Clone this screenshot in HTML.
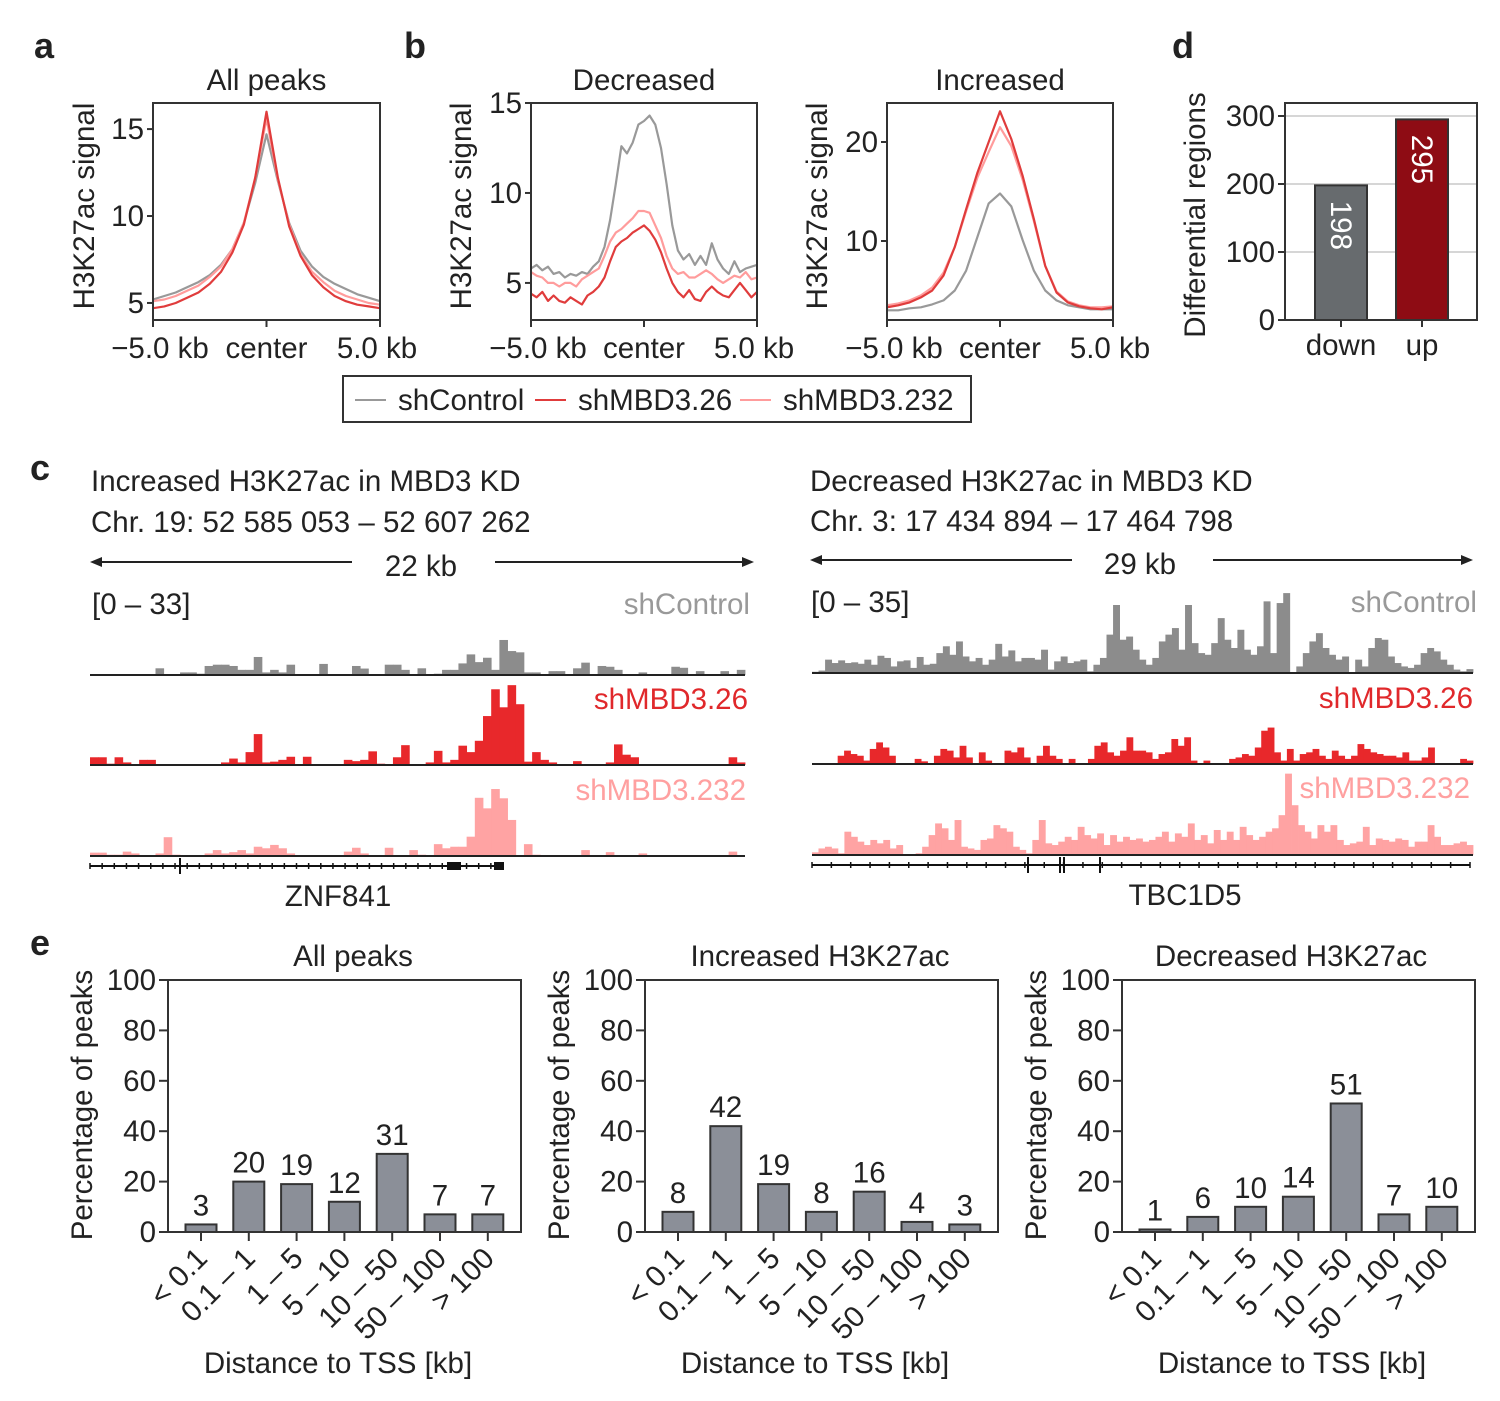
<!DOCTYPE html>
<html><head><meta charset="utf-8"><style>
html,body{margin:0;padding:0;background:#fff;}
svg{display:block;font-family:"Liberation Sans",Arial,sans-serif;}
</style></head><body>
<svg id="fig" width="1500" height="1401" viewBox="0 0 1500 1401" xmlns="http://www.w3.org/2000/svg">
<rect width="1500" height="1401" fill="#fff"/>
<g font-weight="bold" font-size="36" fill="#222">
<text x="34" y="58">a</text>
<text x="404" y="58">b</text>
<text x="1172" y="58">d</text>
<text x="30" y="480">c</text>
<text x="30" y="955">e</text>
</g>
<g font-size="29.5" fill="#222">
<text x="91" y="491">Increased H3K27ac in MBD3 KD</text>
<text x="91" y="532">Chr. 19: 52 585 053 – 52 607 262</text>
<text x="810" y="491">Decreased H3K27ac in MBD3 KD</text>
<text x="810" y="531">Chr. 3: 17 434 894 – 17 464 798</text>
<text x="421" y="576" text-anchor="middle">22 kb</text>
<text x="1140" y="574" text-anchor="middle">29 kb</text>
<text x="92" y="614">[0 – 33]</text>
<text x="811" y="612">[0 – 35]</text>
<text x="338" y="906" text-anchor="middle">ZNF841</text>
<text x="1185" y="905" text-anchor="middle">TBC1D5</text>
<text x="750" y="614" text-anchor="end" fill="#999">shControl</text>
<text x="748" y="709" text-anchor="end" fill="#e0282b">shMBD3.26</text>
<text x="746" y="800" text-anchor="end" fill="#ffa0a0">shMBD3.232</text>
<text x="1477" y="612" text-anchor="end" fill="#999">shControl</text>
<text x="1473" y="708" text-anchor="end" fill="#e0282b">shMBD3.26</text>
<text x="1470" y="798" text-anchor="end" fill="#ffa0a0">shMBD3.232</text>
</g>
<g stroke="#222" stroke-width="2" fill="#222">
<line x1="96" y1="562" x2="352" y2="562"/>
<polygon points="90,562 102,557 102,567" stroke="none"/>
<line x1="495" y1="562" x2="748" y2="562"/>
<polygon points="754,562 742,557 742,567" stroke="none"/>
<line x1="816" y1="560" x2="1072" y2="560"/>
<polygon points="810,560 822,555 822,565" stroke="none"/>
<line x1="1213" y1="560" x2="1467" y2="560"/>
<polygon points="1473,560 1461,555 1461,565" stroke="none"/>
</g>
<g>
<rect x="343" y="376" width="628" height="46" fill="#fff" stroke="#333" stroke-width="2"/>
<line x1="355" y1="400" x2="386" y2="400" stroke="#999" stroke-width="2"/>
<text x="398" y="410" font-size="29.5" fill="#222">shControl</text>
<line x1="535" y1="400" x2="566" y2="400" stroke="#e03c3c" stroke-width="2"/>
<text x="578" y="410" font-size="29.5" fill="#222">shMBD3.26</text>
<line x1="740" y1="400" x2="771" y2="400" stroke="#ff9c9c" stroke-width="2"/>
<text x="783" y="410" font-size="29.5" fill="#222">shMBD3.232</text>
</g>
</svg>
<script>
// ---------- data ----------
const profileX21 = [-5,-4.5,-4,-3.5,-3,-2.5,-2,-1.5,-1,-0.5,0,0.5,1,1.5,2,2.5,3,3.5,4,4.5,5];
const allCtrl = [5.2,5.4,5.6,5.9,6.2,6.6,7.2,8.1,9.6,11.9,14.7,12.0,9.6,8.0,7.1,6.5,6.1,5.8,5.5,5.3,5.1];
const allKd26 = [4.7,4.8,5.0,5.3,5.6,6.1,6.8,7.9,9.5,12.2,16.0,12.2,9.4,7.7,6.6,5.9,5.4,5.1,4.9,4.8,4.7];
const allKd232 = [5.1,5.2,5.4,5.7,6.0,6.5,7.1,8.1,9.6,12.2,15.6,12.1,9.5,7.8,6.8,6.2,5.7,5.4,5.2,5.0,4.9];
const decX = Array.from({length:41},(_, i)=>-5+i*0.25);
const decCtrl = [5.8,6.0,5.7,5.9,5.5,5.6,5.3,5.5,5.4,5.6,5.5,5.9,6.2,7.0,8.5,10.5,12.6,12.2,12.8,13.8,14.0,14.3,13.8,12.5,10.5,8.2,6.8,6.3,6.6,6.0,6.5,6.0,7.2,6.3,5.8,5.5,6.2,5.6,5.8,5.9,6.0];
const decKd232 = [5.6,5.4,5.3,5.0,5.0,4.8,5.0,5.0,4.8,5.2,5.4,5.6,5.8,6.5,7.3,7.8,8.0,8.3,8.6,9.0,9.0,8.9,8.2,7.5,6.5,5.8,5.5,5.6,5.3,5.3,5.5,5.7,5.5,5.2,5.0,5.2,5.4,5.3,5.6,5.2,5.3];
const decKd26 = [4.4,4.2,4.5,4.0,4.3,4.0,3.9,4.2,4.0,3.8,4.3,4.5,4.8,5.3,6.2,7.0,7.3,7.5,7.8,8.0,8.2,7.9,7.4,6.7,5.8,5.0,4.5,4.2,4.6,4.1,4.0,4.5,4.8,4.5,4.3,4.2,4.6,5.0,4.6,4.2,4.5];
const incCtrl = [3.0,3.0,3.2,3.3,3.6,4.0,5.0,7.0,10.4,13.8,14.8,13.5,10.1,7.0,5.0,4.0,3.5,3.3,3.1,3.1,3.1];
const incKd26 = [3.3,3.5,3.8,4.3,5.0,6.5,9.4,13.2,16.9,20.0,23.1,20.3,16.6,12.2,7.5,4.8,3.8,3.4,3.2,3.1,3.3];
const incKd232 = [3.5,3.7,4.0,4.5,5.3,6.8,9.4,13.0,16.4,19.0,21.5,19.6,16.2,12.0,7.5,4.9,3.9,3.5,3.3,3.3,3.4];

const diffCats = ['down','up'];
const diffVals = [198,295];

const tssCats = ['< 0.1','0.1 – 1','1 – 5','5 – 10','10 – 50','50 – 100','> 100'];
const tssAll = [3,20,19,12,31,7,7];
const tssInc = [8,42,19,8,16,4,3];
const tssDec = [1,6,10,14,51,7,10];

const trkLCtrl = [0,0,0,0,0,0,0,0,2.6,0,0,1,1,0.5,3.5,4,4,3.5,2,2,7,1,2,1,4,0,0,0,4.3,0,0,0,3.5,2.5,0,0,4,4,2,0,2.6,0,0.5,2,2,4.5,8,5,6.7,2,13.6,9.3,8.8,1,1,0,1.5,1.5,0,2.6,4.8,0,3.5,3.2,2,0,0,1,0,0,0,3.2,2.8,0,1.5,0,0,1.5,0,2];
const trkL26 = [3,3,0.5,3,1,0,2,2,0,0,0,0,0,0,0,0,1,2.5,1,5,12,1,1.3,2,3.2,0,3.2,0,0,0,0,2,1.5,2,5.3,0.5,0,3,7.7,0,0,1,5.5,1,2,7.5,5,9.4,19,29.4,22.4,31,23.6,1.3,5,2,1,0,0,1.5,0,0,0,1,8,4,3,0,0,0,0,0,0,0,0,0,0,0,3,1];
const trkL232 = [1.3,1.3,0.5,0.5,1.7,1,0,0,1,7.3,0.5,0,0,0,1,2.3,1,1.5,2.3,1,3.6,3,4.3,3,1,0,0,0,0,0,0,1.7,3.2,1,0,0,3.2,0,0,2.3,0.5,0,4.6,3,3.6,3.6,7.5,22.6,18.5,26,22.4,14,0,4.6,0.5,0,0,0,0,0,2.3,0,0,1.5,0,0,0,1,0,0,0,0,0,0,0,0,0,0,1.7,0];
const trkRCtrl = [0.5,1,5.5,4.1,5.2,4.1,4.4,3.8,5.5,3.4,7.1,6.2,2.7,4.8,5.2,2.1,6.6,3.4,3.8,8.2,11,7.5,13,6.8,4.8,6.2,3.4,5.5,12,6.8,9.3,4.8,6.2,6.2,5.5,9.6,1.4,4.8,6.8,4.1,4.8,5.5,0.7,3.4,6.2,15.8,28,13.7,15,9.6,5.5,3.4,6.2,13,15.8,18.5,9.6,28,12.3,8.2,7.5,12.3,22.6,13.7,10.3,17.8,9.6,7.5,11,29.5,8.2,28.8,32.9,0,2.7,8.2,13,16.4,10.3,7.5,5.5,6.8,0,5.5,2.7,10.3,14.4,13.7,6.8,4.1,2.7,2.1,3.4,8.2,10.3,8.9,5.5,3.4,1.4,0.7,1.6];
const trkR26 = [0,0,0,0,3.4,5.5,4.1,3.4,1.4,6.2,8.9,6.8,3.4,0,0,0,2.1,1.1,0,3.4,6.2,5.5,2.7,7.5,2.7,0,4.8,1.4,0,0,5.5,4.8,6.8,2.7,0,3.4,7.5,3.4,2.1,0,2.1,0,0,2.1,7.5,8.9,4.8,3.4,5.5,11,5.5,5.5,4.8,2.1,4.1,4.8,10.3,7.5,11,1.4,0,1.4,0,0,0,2.1,2.7,4.1,3.4,6.8,13.7,15,4.8,1.4,6.2,1.4,4.1,4.8,6.2,3.4,2.1,5.5,3.4,2.1,3.4,8.2,6.2,4.8,4.1,3.4,3.4,2.7,4.8,1.4,1.4,2.7,6.8,0,0,0,0,2.1,1.4];
const trkR232 = [1.1,2.7,3.4,2.7,0.7,9.6,7.5,5.5,4.1,6.2,4.8,6.2,2.7,4.1,0,0,0.7,3.4,8.2,13,11,6.2,14.4,3.4,2.7,2.1,6.2,6.8,12.3,11,9.6,3.4,2.1,0.7,6.2,14.4,4.8,4.1,5.5,7.5,6.2,11.6,8.2,6.8,8.9,4.1,8.2,5.5,7.5,6.2,6.8,5.5,6.2,7.5,9.6,5.5,8.9,7.5,13,6.2,8.2,4.8,10.3,6.2,9.6,6.2,11.6,8.2,6.2,7.5,9.6,11,16.4,33.5,20.5,12.3,9.6,6.8,12.3,9.6,12.3,6.2,4.1,4.8,5.5,11.6,4.1,6.8,6.2,5.5,6.8,6.2,3.4,5.5,5.5,12.3,7.5,4.1,4.1,4.8,5.5,4.1];

// ---------- helpers ----------
const NS = 'http://www.w3.org/2000/svg';
const svg = document.getElementById('fig');
const FS = 29.5;
function mk(parent, tag, attrs, text){
  const el = document.createElementNS(NS, tag);
  for (const k in attrs) el.setAttribute(k, attrs[k]);
  if (text !== undefined) el.textContent = text;
  parent.appendChild(el);
  return el;
}
function lin(d0,d1,r0,r1){ return v => r0 + (v-d0)*(r1-r0)/(d1-d0); }
const TXT = '#222';

// ---------- profile plots (a, b) ----------
function profilePanel(name, box, yDom, yTicks, title, xs, series){
  const g = mk(svg,'g',{});
  
  
  const xS = lin(-5,5,box.x0,box.x1), yS = lin(yDom[0],yDom[1],box.y1,box.y0);
  const cs = ['#999','#e03c3c','#ff9c9c'];
  const order = [0,2,1];
  const clip = 'clip-'+name;
  const cp = mk(g,'clipPath',{id:clip});
  mk(cp,'rect',{x:box.x0,y:box.y0,width:box.x1-box.x0,height:box.y1-box.y0});
  order.forEach(si=>{
    const d = xs.map((x,i)=>(i?'L':'M')+xS(x).toFixed(1)+','+yS(series[si][i]).toFixed(1)).join('');
    const p = mk(g,'path',{d:d,fill:'none',stroke:cs[si],'stroke-width':2.2,'stroke-linejoin':'round','clip-path':'url(#'+clip+')'});
    
    
  });
  mk(g,'rect',{x:box.x0,y:box.y0,width:box.x1-box.x0,height:box.y1-box.y0,fill:'none',stroke:'#333','stroke-width':2});
  yTicks.forEach(t=>{
    const y = yS(t);
    mk(g,'line',{x1:box.x0-6,x2:box.x0,y1:y,y2:y,stroke:'#333','stroke-width':2});
    const tl = mk(g,'text',{x:box.x0-9,y:y+10,'text-anchor':'end','font-size':FS,fill:TXT}, String(t));
    
    
  });
  [[-5,'−5.0 kb','middle',7],[0,'center','middle',0],[5,'5.0 kb','middle',-3]].forEach(([v,l,a,dx])=>{
    const x = xS(v);
    mk(g,'line',{x1:x,x2:x,y1:box.y1,y2:box.y1+7,stroke:'#333','stroke-width':2});
    const tl = mk(g,'text',{x:x+dx,y:box.y1+38,'text-anchor':a,'font-size':FS,fill:TXT}, l);
    
    
  });
  const tt = mk(g,'text',{x:(box.x0+box.x1)/2,y:box.y0-13,'text-anchor':'middle','font-size':FS,fill:TXT}, title);
  
  
  if (box.ylab){
    const yl = mk(g,'text',{transform:'translate('+box.ylab+',206) rotate(-90)','text-anchor':'middle','font-size':FS,fill:TXT}, 'H3K27ac signal');
    
    
  }
}
profilePanel('profile-all-peaks',{x0:153,x1:380,y0:103,y1:320,ylab:94},[4.02,16.5],[5,10,15],'All peaks',profileX21,[allCtrl,allKd26,allKd232]);
profilePanel('profile-decreased',{x0:531,x1:757,y0:103,y1:320,ylab:471},[2.94,15],[5,10,15],'Decreased',decX,[decCtrl,decKd26,decKd232]);
profilePanel('profile-increased',{x0:887,x1:1113,y0:103,y1:320,ylab:827},[2.02,23.94],[10,20],'Increased',profileX21,[incCtrl,incKd26,incKd232]);

// ---------- panel d ----------
(function(){
  const g = mk(svg,'g',{});
  
  
  const box = {x0:1285,x1:1477,y0:103,y1:320};
  const yS = lin(0,320,320,102.4);
  [100,200,300].forEach(t=>mk(g,'line',{x1:box.x0,x2:box.x1,y1:yS(t),y2:yS(t),stroke:'#d6d6d6','stroke-width':2}));
  const cols = ['#676b6e','#8e0c14'];
  const cx = [1341,1422];
  diffVals.forEach((v,i)=>{
    const b = mk(g,'rect',{x:cx[i]-26,y:yS(v),width:52,height:yS(0)-yS(v),fill:cols[i],stroke:'#333','stroke-width':2});
    
    
    const ty = yS(v) + 40;
    const lb = mk(g,'text',{transform:'translate('+(cx[i]-10)+','+ty+') rotate(90)','text-anchor':'middle','font-size':FS,fill:'#fff'}, String(v));
    
    
    mk(g,'line',{x1:cx[i],x2:cx[i],y1:box.y1,y2:box.y1+7,stroke:'#333','stroke-width':2});
    const xl = mk(g,'text',{x:cx[i],y:355,'text-anchor':'middle','font-size':FS,fill:TXT}, diffCats[i]);
    
    
  });
  mk(g,'rect',{x:box.x0,y:box.y0,width:box.x1-box.x0,height:box.y1-box.y0,fill:'none',stroke:'#333','stroke-width':2});
  [0,100,200,300].forEach(t=>{
    mk(g,'line',{x1:box.x0-7,x2:box.x0,y1:yS(t),y2:yS(t),stroke:'#333','stroke-width':2});
    const tl = mk(g,'text',{x:box.x0-10,y:yS(t)+10,'text-anchor':'end','font-size':FS,fill:TXT}, String(t));
    
    
  });
  const yl = mk(g,'text',{transform:'translate(1205,215) rotate(-90)','text-anchor':'middle','font-size':FS,fill:TXT}, 'Differential regions');
  
  
})();

// ---------- panel c tracks ----------
function track(name, arr, x0, x1, base, maxVal, color){
  const g = mk(svg,'g',{});
  
  
  const w = (x1-x0)/arr.length;
  const yS = lin(0,maxVal,base,base-85);
  arr.forEach((v,i)=>{
    if (v<=0) return;
    const r = mk(g,'rect',{x:(x0+i*w).toFixed(2),y:yS(v).toFixed(2),width:(w+0.4).toFixed(2),height:(base-yS(v)).toFixed(2),fill:color});
    
    
  });
  mk(g,'line',{x1:x0,x2:x1,y1:base,y2:base,stroke:'#222','stroke-width':2});
}
track('track-left-shcontrol',trkLCtrl,90,745,675,33,'#8c8c8c');
track('track-left-shmbd3-26',trkL26,90,745,765,33,'#e8282b');
track('track-left-shmbd3-232',trkL232,90,745,856,33,'#ffa3a3');
track('track-right-shcontrol',trkRCtrl,812,1473,673,35,'#8c8c8c');
track('track-right-shmbd3-26',trkR26,812,1473,764,35,'#e8282b');
track('track-right-shmbd3-232',trkR232,812,1473,855,35,'#ffa3a3');

function geneTrack(name, x0, x1, y, n, blocks, bigTicks){
  const g = mk(svg,'g',{});
  
  
  mk(g,'line',{x1:x0,x2:x1,y1:y,y2:y,stroke:'#111','stroke-width':2});
  for (let i=0;i<=n;i++){
    const x = x0 + (x1-x0)*i/n;
    mk(g,'line',{x1:x,x2:x,y1:y-3,y2:y+3,stroke:'#111','stroke-width':1.5});
  }
  blocks.forEach(b=>mk(g,'rect',{x:b[0],y:y-4,width:b[1],height:8,fill:'#111'}));
  bigTicks.forEach(x=>mk(g,'line',{x1:x,x2:x,y1:y-8,y2:y+8,stroke:'#111','stroke-width':2}));
}
geneTrack('gene-model-znf841',90,503,866,34,[[447,14],[494,10]],[180]);
geneTrack('gene-model-tbc1d5',812,1470,865,34,[],[1028,1060,1064,1100]);

// ---------- panel e ----------
function tssChart(name, x0, title, vals, ylabX, titleX){
  const g = mk(svg,'g',{});
  
  
  const box = {x0:x0,x1:x0+353,y0:980,y1:1232};
  const yS = lin(0,100,box.y1,box.y0);
  const step = 47.8, first = x0+33;
  vals.forEach((v,i)=>{
    const cx = first + i*step;
    const b = mk(g,'rect',{x:cx-15.5,y:yS(v),width:31,height:yS(0)-yS(v),fill:'#8b8f98',stroke:'#333','stroke-width':2});
    
    
    const vl = mk(g,'text',{x:cx,y:yS(v)-9,'text-anchor':'middle','font-size':FS,fill:TXT}, String(v));
    
    
    mk(g,'line',{x1:cx,x2:cx,y1:box.y1,y2:box.y1+9,stroke:'#333','stroke-width':2});
    const xl = mk(g,'text',{transform:'translate('+(cx+8)+',1260) rotate(-45)','text-anchor':'end','font-size':FS,fill:TXT}, tssCats[i]);
    
    
  });
  mk(g,'rect',{x:box.x0,y:box.y0,width:353,height:252,fill:'none',stroke:'#333','stroke-width':2});
  [0,20,40,60,80,100].forEach(t=>{
    mk(g,'line',{x1:box.x0-9,x2:box.x0,y1:yS(t),y2:yS(t),stroke:'#333','stroke-width':2});
    const tl = mk(g,'text',{x:box.x0-12,y:yS(t)+10,'text-anchor':'end','font-size':FS,fill:TXT}, String(t));
    
    
  });
  const tt = mk(g,'text',{x:titleX,y:966,'text-anchor':'middle','font-size':FS,fill:TXT}, title);
  
  
  const yl = mk(g,'text',{transform:'translate('+ylabX+',1105) rotate(-90)','text-anchor':'middle','font-size':FS,fill:TXT}, 'Percentage of peaks');
  
  
  const xt = mk(g,'text',{x:box.x0+170,y:1373,'text-anchor':'middle','font-size':FS,fill:TXT}, 'Distance to TSS [kb]');
  
  
}
tssChart('tss-all-peaks',168,'All peaks',tssAll,92,353);
tssChart('tss-increased',645,'Increased H3K27ac',tssInc,569,820);
tssChart('tss-decreased',1122,'Decreased H3K27ac',tssDec,1046,1291);
</script>
</body></html>
